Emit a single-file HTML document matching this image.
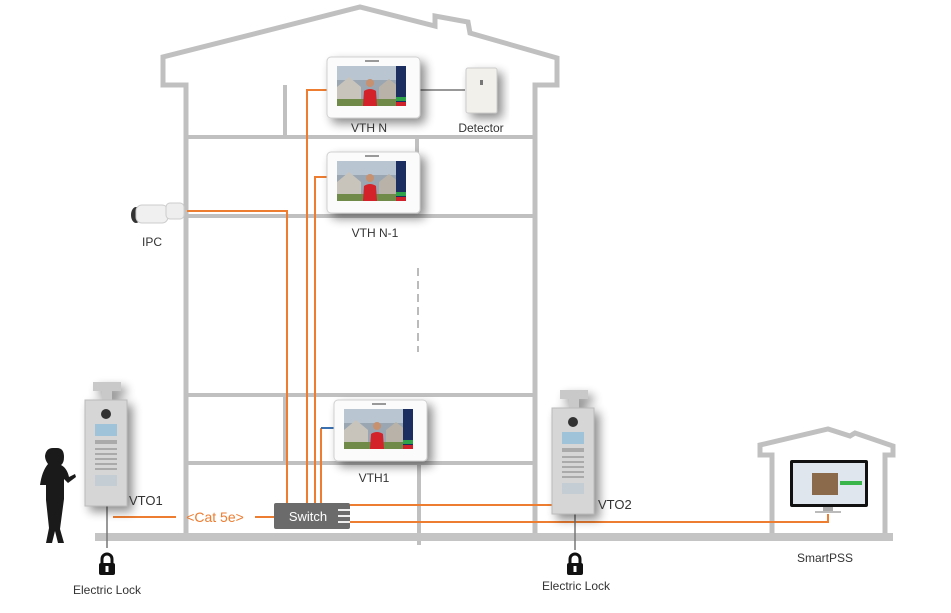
<!DOCTYPE html>
<html><head><meta charset="utf-8"><style>
html,body{margin:0;padding:0;background:#fff;}
svg{display:block;}
text{font-family:"Liberation Sans",sans-serif;}
</style></head><body>
<svg width="951" height="613" viewBox="0 0 951 613" xmlns="http://www.w3.org/2000/svg">
<defs>
<filter id="sh" x="-30%" y="-30%" width="170%" height="170%"><feGaussianBlur in="SourceAlpha" stdDeviation="5"/><feOffset dx="5" dy="5"/><feComponentTransfer><feFuncA type="linear" slope="0.45"/></feComponentTransfer><feMerge><feMergeNode/><feMergeNode in="SourceGraphic"/></feMerge></filter>
<g id="mon">
<rect x="0" y="0" width="93" height="61" rx="4" fill="#fbfbfb" stroke="#d0d0d0" stroke-width="1"/>
<rect x="10" y="9" width="69" height="40" fill="#9aa6b2"/>
<rect x="10" y="9" width="69" height="14" fill="#b9c6d2"/>
<polygon points="10,30 22,20 34,30 34,49 10,49" fill="#c8c4bc"/>
<polygon points="52,30 62,22 72,30 72,49 52,49" fill="#b8b2a8"/>
<rect x="10" y="42" width="59" height="7" fill="#6f8b4a"/>
<circle cx="43" cy="26" r="4" fill="#c79170"/>
<path d="M36,49 L37,34 Q43,30 49,34 L50,49Z" fill="#d4202a"/>
<rect x="69" y="9" width="10" height="40" fill="#1f2f5f"/>
<rect x="69" y="40" width="10" height="4" fill="#2fa34a"/>
<rect x="69" y="45" width="10" height="4" fill="#d0202a"/>
<rect x="38" y="3" width="14" height="2" fill="#999"/>
</g>
<g id="vto">
<rect x="8" y="0" width="28" height="9" fill="#c9c9c9"/>
<rect x="17" y="9" width="10" height="10" fill="#c9c9c9"/>
<rect x="0" y="18" width="42" height="106" fill="#d6d6d6" stroke="#bbb"/>
<circle cx="21" cy="32" r="5" fill="#333"/>
<rect x="10" y="42" width="22" height="12" fill="#9fc3d8"/>
<g fill="#aaa"><rect x="10" y="58" width="22" height="4"/><rect x="10" y="66" width="22" height="2"/><rect x="10" y="71" width="22" height="2"/><rect x="10" y="76" width="22" height="2"/><rect x="10" y="81" width="22" height="2"/><rect x="10" y="86" width="22" height="2"/></g>
<rect x="10" y="93" width="22" height="11" fill="#c4ccd4"/>
</g>
<g id="lock"><path d="M-5,0 v-4 a5,5 0 0 1 10,0 v4" fill="none" stroke="#111" stroke-width="3"/><rect x="-8" y="0" width="16" height="12" rx="2" fill="#111"/><rect x="-1.5" y="3" width="3" height="6" fill="#fff"/></g>
</defs>

<g fill="none" stroke="#c0c0c0" stroke-width="5" stroke-linejoin="miter">
<path d="M186,540 V85 H163 V57 L360,7 L435,26 L435,16 L468,22 L470,33 L557,58 V85 H535 V540"/>
<path d="M772,540 V455 H760 V445 L828,429 L850,436 L855,433 L893,446 V455 H885 V540"/>
</g>
<g stroke="#c0c0c0" stroke-width="4">
<line x1="186" y1="137" x2="535" y2="137"/>
<line x1="186" y1="216" x2="535" y2="216"/>
<line x1="186" y1="395" x2="535" y2="395"/>
<line x1="186" y1="463" x2="535" y2="463"/>
<line x1="285" y1="85" x2="285" y2="137"/>
<line x1="417" y1="137" x2="417" y2="155"/>
<line x1="285" y1="395" x2="285" y2="463"/>
<line x1="419" y1="463" x2="419" y2="545"/>
</g>
<rect x="95" y="533" width="798" height="8" fill="#c4c4c4"/>
<line x1="418" y1="268" x2="418" y2="352" stroke="#bbb" stroke-width="2" stroke-dasharray="8,5"/>

<g fill="none" stroke="#ed7d31" stroke-width="2">
<path d="M187,211 H287 V503"/>
<path d="M330,90 H307 V503"/>
<path d="M330,177 H315 V503"/>
<path d="M321,503 V428"/>
<path d="M113,517 H176"/>
<path d="M255,517 H274"/>
<path d="M350,505 H555"/>
<path d="M350,522 H828 V514"/>
</g>
<line x1="321" y1="428" x2="334" y2="428" stroke="#3a6fb0" stroke-width="2"/>
<line x1="420" y1="90" x2="465" y2="90" stroke="#777" stroke-width="1.5"/>
<line x1="107" y1="505" x2="107" y2="548" stroke="#777" stroke-width="1.5"/>
<line x1="575" y1="510" x2="575" y2="550" stroke="#777" stroke-width="1.5"/>

<rect x="274" y="503" width="76" height="26" rx="2" fill="#6b6b6b"/>
<text x="308" y="521" font-size="13" fill="#fff" text-anchor="middle">Switch</text>
<g stroke="#eee" stroke-width="2"><line x1="338" y1="510" x2="350" y2="510"/><line x1="338" y1="516" x2="350" y2="516"/><line x1="338" y1="522" x2="350" y2="522"/></g>
<text x="215" y="522" font-size="14" fill="#ed7d31" text-anchor="middle">&lt;Cat 5e&gt;</text>

<use href="#mon" x="327" y="57" filter="url(#sh)"/>
<use href="#mon" x="327" y="152" filter="url(#sh)"/>
<use href="#mon" x="334" y="400" filter="url(#sh)"/>
<text x="369" y="132" font-size="12" fill="#333" text-anchor="middle">VTH N</text>
<text x="375" y="237" font-size="12" fill="#333" text-anchor="middle">VTH N-1</text>
<text x="374" y="482" font-size="12" fill="#333" text-anchor="middle">VTH1</text>

<g filter="url(#sh)"><rect x="466" y="68" width="31" height="45" rx="2" fill="#f2f0ea" stroke="#ccc"/><rect x="480" y="80" width="3" height="5" fill="#777"/></g>
<text x="481" y="132" font-size="12" fill="#333" text-anchor="middle">Detector</text>

<g><ellipse cx="136" cy="215" rx="5" ry="8" fill="#333"/><rect x="136" y="205" width="32" height="18" rx="6" fill="#f0f0f0" stroke="#ccc"/><rect x="166" y="203" width="18" height="16" rx="4" fill="#eee" stroke="#ccc"/></g>
<text x="152" y="246" font-size="12" fill="#333" text-anchor="middle">IPC</text>

<use href="#vto" x="85" y="382" filter="url(#sh)"/>
<use href="#vto" x="552" y="390" filter="url(#sh)"/>
<text x="129" y="505" font-size="13" fill="#333">VTO1</text>
<text x="598" y="509" font-size="13" fill="#333">VTO2</text>

<use href="#lock" x="107" y="563"/>
<use href="#lock" x="575" y="563"/>
<text x="107" y="594" font-size="12" fill="#333" text-anchor="middle">Electric Lock</text>
<text x="576" y="590" font-size="12" fill="#333" text-anchor="middle">Electric Lock</text>

<path d="M57,448 q7,0 7,9 q0,6 -3,8 q6,3 8,12 l6,-3 l1,3 l-8,6 l-4,-4 l0,20 l-4,30 l4,14 h-6 l-3,-12 l-3,12 h-6 l3,-15 l-3,-28 l0,-15 l-6,0 q2,-14 8,-21 q-3,-4 -3,-8 q1,-8 8,-8z" fill="#1a1a1a"/>

<rect x="790" y="460" width="78" height="47" rx="2" fill="#111"/>
<rect x="793" y="463" width="72" height="41" fill="#dfe6ee"/>
<rect x="812" y="473" width="26" height="22" fill="#8a6a4a"/>
<rect x="840" y="481" width="22" height="4" fill="#3ab54a"/>
<rect x="823" y="507" width="10" height="4" fill="#aaa"/>
<rect x="815" y="511" width="26" height="2" fill="#bbb"/>
<text x="825" y="562" font-size="12" fill="#333" text-anchor="middle">SmartPSS</text>
</svg>
</body></html>
